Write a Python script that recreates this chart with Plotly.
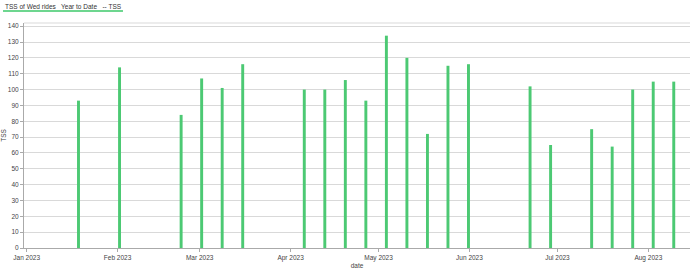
import plotly.graph_objects as go

dates = ["2023-01-18", "2023-02-01", "2023-02-22", "2023-03-01", "2023-03-08", "2023-03-15",
         "2023-04-05", "2023-04-12", "2023-04-19", "2023-04-26", "2023-05-03", "2023-05-10",
         "2023-05-17", "2023-05-24", "2023-05-31", "2023-06-21", "2023-06-28", "2023-07-12",
         "2023-07-19", "2023-07-26", "2023-08-02", "2023-08-09"]
tss = [93, 114, 84, 107, 101, 116, 100, 100, 106, 93, 134, 120, 72, 115, 116, 102, 65, 75, 64, 100, 105, 105]
ride_time = "16:00"

x = [d + " " + ride_time for d in dates]

fig = go.Figure()
fig.add_trace(go.Bar(x=x, y=tss, width=86400000 * 1.0, marker=dict(color="#4cc973", line=dict(width=0)),
                     name="TSS"))

font = "Liberation Sans, Arial, sans-serif"
fs = 6.5
fig.update_layout(
    width=690, height=270,
    margin=dict(l=24, r=0, t=23, b=22, autoexpand=False),
    paper_bgcolor="white", plot_bgcolor="white",
    showlegend=False,
    font=dict(family=font, size=fs, color="#444"),
    xaxis=dict(
        type="date", range=["2022-12-31 02:00", "2023-08-15 05:00"],
        dtick="M1", tick0="2023-01-01", tickformat="%b %Y",
        showgrid=False, showline=True, linecolor="#aaa", linewidth=1,
        ticks="outside", ticklen=3, tickcolor="#aaa", automargin=False,
        title=dict(text="date", font=dict(size=fs, color="#444"), standoff=2),
        tickfont=dict(size=fs, color="#444"),
    ),
    yaxis=dict(
        range=[0, 142], dtick=10, showgrid=True, gridcolor="#d9d9d9", gridwidth=1,
        showline=True, linecolor="#aaa", linewidth=1,
        ticks="outside", ticklen=3, tickcolor="#aaa", automargin=False,
        zeroline=False,
        title=dict(text="TSS", font=dict(size=fs, color="#444"), standoff=6),
        tickfont=dict(size=fs, color="#444"),
    ),
    shapes=[
        dict(type="line", xref="paper", yref="paper", x0=0, x1=1, y0=1, y1=1,
             line=dict(color="#d9d9d9", width=1)),
        dict(type="line", xref="paper", yref="paper", x0=-0.0315, x1=0.1486, y0=1.0533, y1=1.0533,
             line=dict(color="#3cc86a", width=1.5)),
    ],
    annotations=[
        dict(text="TSS of Wed rides   Year to Date   -- TSS", xref="paper", yref="paper",
             x=-0.0315, y=1, xanchor="left", yanchor="middle", yshift=17, showarrow=False,
             font=dict(family=font, size=fs, color="#333")),
    ],
)

fig.write_html("out.html")
